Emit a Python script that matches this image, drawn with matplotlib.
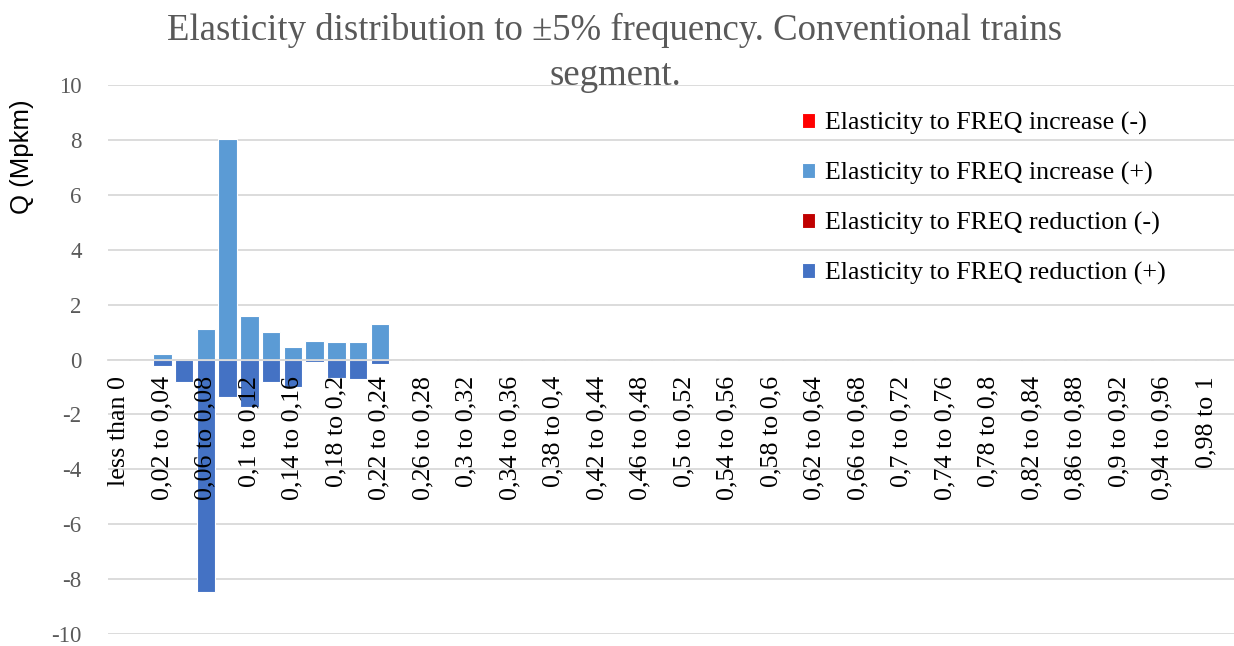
import numpy as np
import matplotlib
matplotlib.use("Agg")
import matplotlib.pyplot as plt

plt.rcParams["axes.unicode_minus"] = False

# categories of elasticity (every other one is labelled on the axis)
categories = [
    "less than 0", "0 to 0,02", "0,02 to 0,04", "0,04 to 0,06", "0,06 to 0,08",
    "0,08 to 0,1", "0,1 to 0,12", "0,12 to 0,14", "0,14 to 0,16", "0,16 to 0,18",
    "0,18 to 0,2", "0,2 to 0,22", "0,22 to 0,24", "0,24 to 0,26", "0,26 to 0,28",
    "0,28 to 0,3", "0,3 to 0,32", "0,32 to 0,34", "0,34 to 0,36", "0,36 to 0,38",
    "0,38 to 0,4", "0,4 to 0,42", "0,42 to 0,44", "0,44 to 0,46", "0,46 to 0,48",
    "0,48 to 0,5", "0,5 to 0,52", "0,52 to 0,54", "0,54 to 0,56", "0,56 to 0,58",
    "0,58 to 0,6", "0,6 to 0,62", "0,62 to 0,64", "0,64 to 0,66", "0,66 to 0,68",
    "0,68 to 0,7", "0,7 to 0,72", "0,72 to 0,74", "0,74 to 0,76", "0,76 to 0,78",
    "0,78 to 0,8", "0,8 to 0,82", "0,82 to 0,84", "0,84 to 0,86", "0,86 to 0,88",
    "0,88 to 0,9", "0,9 to 0,92", "0,92 to 0,94", "0,94 to 0,96", "0,96 to 0,98",
    "0,98 to 1", "more than 1",
]

# Q (Mpkm) per category
inc_neg = [0.0] * 52
inc_pos = [0, 0, 0.20, 0, 1.10, 8.02, 1.58, 1.02, 0.45, 0.69, 0.64, 0.64, 1.30] + [0] * 39
red_neg = [0.0] * 52
red_pos = [0, 0, -0.22, -0.83, -8.47, -1.35, -1.72, -0.82, -1.02, -0.08, -0.69, -0.70, -0.18] + [0] * 39

series = [
    ("Elasticity to FREQ increase (-)", inc_neg, "#FF0000"),
    ("Elasticity to FREQ increase (+)", inc_pos, "#5B9BD5"),
    ("Elasticity to FREQ reduction (-)", red_neg, "#C00000"),
    ("Elasticity to FREQ reduction (+)", red_pos, "#4472C4"),
]

serif = ["Liberation Serif", "DejaVu Serif"]

fig = plt.figure(figsize=(12.34, 6.46), dpi=100)
ax = fig.add_axes([108 / 1234, 12 / 646, 1131 / 1234, 549 / 646])

x = np.arange(len(categories))
handles = []
for name, vals, col in series:
    b = ax.bar(x, vals, width=0.84, color=col, edgecolor="white", linewidth=0.8, label=name)
    handles.append(b)

ax.set_xlim(-0.5, len(categories) - 0.5)
ax.set_ylim(-10, 10)
ax.set_yticks(np.arange(-10, 11, 2))
ax.set_axisbelow(True)
ax.yaxis.grid(True, color="#D9D9D9", linewidth=1.3)
ax.xaxis.set_zorder(4)  # category labels sit on top of the bars

for s in ["top", "right", "left"]:
    ax.spines[s].set_visible(False)
ax.spines["bottom"].set_position(("data", 0))
ax.spines["bottom"].set_color("#D9D9D9")
ax.spines["bottom"].set_linewidth(1.3)

ax.set_xticks(x[::2], categories[::2], rotation=90, fontsize=18.7, family=serif,
              color="black", va="top")
ax.tick_params(axis="x", length=0, pad=12)
ax.tick_params(axis="y", length=0, pad=19, labelsize=16.5, labelcolor="#595959")
for lab in ax.get_yticklabels():
    lab.set_family(serif)

fig.text(22 / 1234, 1 - 157 / 646, "Q (Mpkm)", rotation=90, ha="center", va="center",
         fontsize=18.5, family=["Liberation Sans", "DejaVu Sans"], color="black")

fig.text(615 / 1234, 1 - 13 / 646,
         "Elasticity distribution to \u00b15% frequency. Conventional trains\nsegment.",
         ha="center", va="top", fontsize=26.5, family=serif, color="#595959",
         linespacing=1.38)

ax.legend(handles=handles, loc="upper left", bbox_to_anchor=(802 / 1234, 1 - 112 / 646),
          bbox_transform=fig.transFigure, frameon=False, borderpad=0, borderaxespad=0,
          handlelength=0.5, handleheight=0.5, handletextpad=0.38, labelspacing=1.04,
          prop={"family": serif, "size": 18.7})

fig.savefig("out.png", dpi=100)
